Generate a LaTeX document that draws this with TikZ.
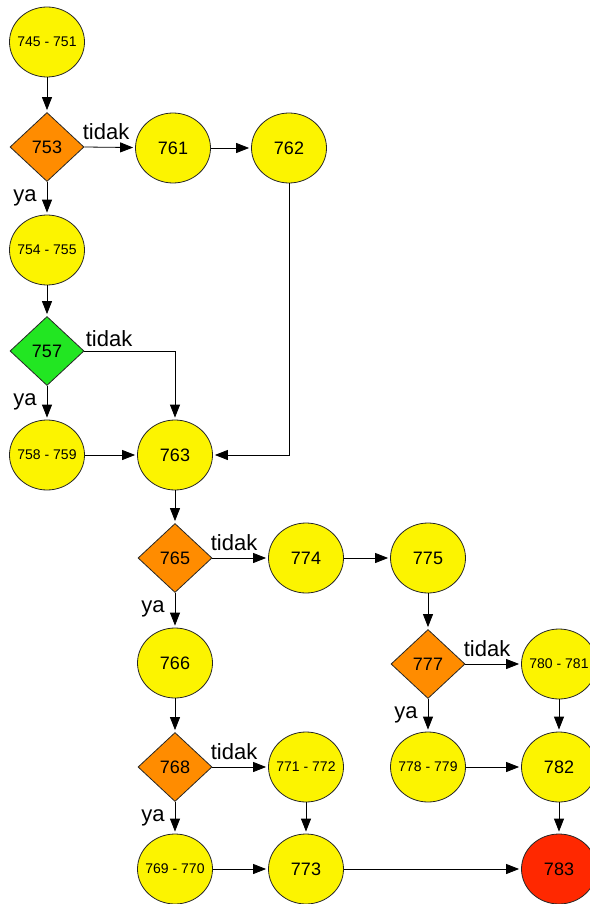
\documentclass[tikz,border=0pt]{standalone}
\usepackage{fontspec}
\setmainfont{Liberation Sans}
\usetikzlibrary{arrows.meta,shapes.geometric}
\definecolor{blkyellow}{RGB}{252,244,0}
\definecolor{condorange}{RGB}{255,140,0}
\definecolor{condgreen}{RGB}{34,230,34}
\definecolor{endred}{RGB}{255,40,0}
\tikzset{
  blk/.style={ellipse,draw=black!85,line width=0.8pt,fill=blkyellow,minimum width=75pt,minimum height=70pt,inner sep=0pt,font=\fontsize{18}{18}\selectfont},
  rng/.style={blk,inner xsep=-10pt,font=\fontsize{14}{14}\selectfont},
  cond/.style={diamond,draw=black!85,line width=0.8pt,fill=condorange,minimum width=74pt,minimum height=69pt,inner sep=0pt,font=\fontsize{18}{18}\selectfont},
  flow/.style={line width=0.8pt,-{Triangle[length=13pt,width=10pt]},shorten >=2pt},
  lbltidak/.style={anchor=south west,inner sep=1pt,xshift=-3pt,yshift=6pt,font=\fontsize{22}{22}\selectfont},
  lblya/.style={anchor=north east,inner sep=1pt,xshift=-9pt,yshift=-6pt,font=\fontsize{22}{22}\selectfont},
}
\begin{document}
\begin{tikzpicture}[x=1pt,y=-1pt]
\useasboundingbox (0,0) rectangle (589,904);
\node[rng] (n745) at (47,42) {745 - 751};
\node[cond] (d753) at (47,147) {753};
\node[blk] (n761) at (173,148) {761};
\node[blk] (n762) at (289,148) {762};
\node[rng] (n754) at (47,250) {754 - 755};
\node[cond,fill=condgreen] (d757) at (47,351) {757};
\node[rng] (n758) at (47,455) {758 - 759};
\node[blk] (n763) at (175,455) {763};
\node[cond] (d765) at (175,558) {765};
\node[blk] (n774) at (306,558) {774};
\node[blk] (n775) at (428,558) {775};
\node[blk] (n766) at (175,663) {766};
\node[cond] (d777) at (428,664) {777};
\node[rng] (n780) at (559,664) {780 - 781};
\node[cond] (d768) at (175,767) {768};
\node[rng] (n771) at (306,767) {771 - 772};
\node[rng] (n778) at (428,767) {778 - 779};
\node[blk] (n782) at (559,767) {782};
\node[rng] (n769) at (175,869) {769 - 770};
\node[blk] (n773) at (306,869) {773};
\node[blk,fill=endred] (n783) at (559,869) {783};

\draw[flow] (n745) -- (d753);
\draw[flow] (d753.east) -- node[pos=0,lbltidak] {tidak} (n761);
\draw[flow] (d753.south) -- node[pos=0,lblya] {ya} (n754);
\draw[flow] (n761) -- (n762);
\draw[flow] (n762.south) |- (n763.east);
\draw[flow] (n754) -- (d757);
\draw[flow] (d757.east) -| node[pos=0,lbltidak,xshift=3pt,yshift=-3pt] {tidak} (n763.north);
\draw[flow] (d757.south) -- node[pos=0,lblya] {ya} (n758);
\draw[flow] (n758) -- (n763);
\draw[flow] (n763) -- (d765);
\draw[flow] (d765.east) -- node[pos=0,lbltidak] {tidak} (n774);
\draw[flow] (d765.south) -- node[pos=0,lblya] {ya} (n766);
\draw[flow] (n774) -- (n775);
\draw[flow] (n775) -- (d777);
\draw[flow] (d777.east) -- node[pos=0,lbltidak] {tidak} (n780);
\draw[flow] (d777.south) -- node[pos=0,lblya] {ya} (n778);
\draw[flow] (n780) -- (n782);
\draw[flow] (n778) -- (n782);
\draw[flow] (n782) -- (n783);
\draw[flow] (n766) -- (d768);
\draw[flow] (d768.east) -- node[pos=0,lbltidak] {tidak} (n771);
\draw[flow] (d768.south) -- node[pos=0,lblya] {ya} (n769);
\draw[flow] (n771) -- (n773);
\draw[flow] (n769) -- (n773);
\draw[flow] (n773) -- (n783);
\end{tikzpicture}
\end{document}
